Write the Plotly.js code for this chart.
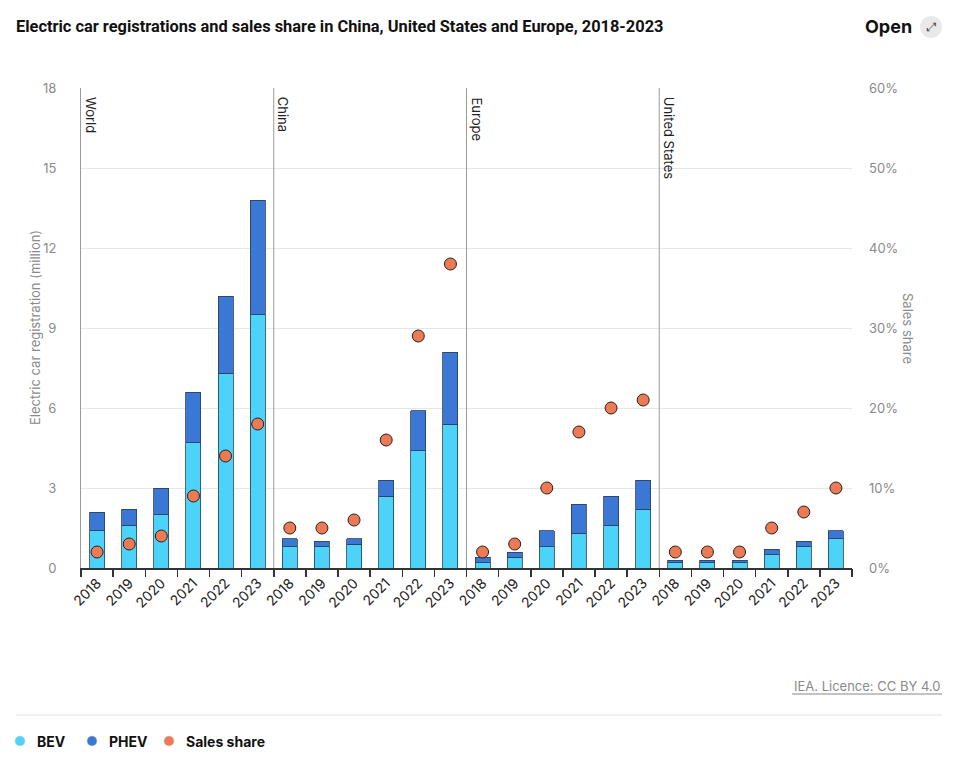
<!DOCTYPE html>
<html>
<head>
<meta charset="utf-8">
<script src="https://cdn.plot.ly/plotly-3.0.1.min.js"></script>
<style>html,body{margin:0;padding:0;background:#fff;}#chart{width:969px;height:758px;}</style>
</head>
<body>
<div id="chart"></div>
<script>
// ---- data ----
const regions = ["World", "China", "Europe", "United States"];
const years = ["2018", "2019", "2020", "2021", "2022", "2023"];
const bevWorld = [1.4, 1.6, 2.0, 4.7, 7.3, 9.5];
const phevWorld = [0.7, 0.6, 1.0, 1.9, 2.9, 4.3];
const shareWorld = [2, 3, 4, 9, 14, 18];
const bevChina = [0.8, 0.8, 0.9, 2.7, 4.4, 5.4];
const phevChina = [0.3, 0.2, 0.2, 0.6, 1.5, 2.7];
const shareChina = [5, 5, 6, 16, 29, 38];
const bevEurope = [0.2, 0.4, 0.8, 1.3, 1.6, 2.2];
const phevEurope = [0.2, 0.2, 0.6, 1.1, 1.1, 1.1];
const shareEurope = [2, 3, 10, 17, 20, 21];
const bevUS = [0.2, 0.2, 0.2, 0.5, 0.8, 1.1];
const phevUS = [0.1, 0.1, 0.1, 0.2, 0.2, 0.3];
const shareUS = [2, 2, 2, 5, 7, 10];
const yTicks = [0, 3, 6, 9, 12, 15, 18];
const y2Ticks = [0, 10, 20, 30, 40, 50, 60];
const seriesNames = ["BEV", "PHEV", "Sales share"];

// ---- build ----
const bevAll = [].concat(bevWorld, bevChina, bevEurope, bevUS);
const phevAll = [].concat(phevWorld, phevChina, phevEurope, phevUS);
const shareAll = [].concat(shareWorld, shareChina, shareEurope, shareUS);
const xIdx = bevAll.map((_, i) => i);
const xText = [];
regions.forEach(() => years.forEach(y => xText.push(y)));
const n = xIdx.length;
const boundaries = [];
for (let i = 0; i <= n; i++) boundaries.push(i - 0.5);

const C_BEV = "#4CD3F9", C_PHEV = "#3B78D6", C_SHARE = "#EE7A55";
const seriesColors = [C_BEV, C_PHEV, C_SHARE];
const FONT = "Inter, 'Noto Sans', sans-serif";

// pixel helpers (plot area: x 81..852, y 88..568)
const L = 81, R = 852, T = 88, B = 568;
const px = x => (x - L) / (R - L);
const py = y => (B - y) / (B - T);

const traces = [
  {type: "bar", name: seriesNames[0], x: xIdx, y: bevAll, width: 0.47,
   marker: {color: C_BEV, line: {color: "#2c3e50", width: 0.8}}, showlegend: false, hoverinfo: "y"},
  {type: "bar", name: seriesNames[1], x: xIdx, y: phevAll, width: 0.47,
   marker: {color: C_PHEV, line: {color: "#2c3e50", width: 0.8}}, showlegend: false, hoverinfo: "y"},
  {type: "scatter", mode: "markers", name: seriesNames[2], x: xIdx, y: shareAll, yaxis: "y2",
   marker: {color: C_SHARE, size: 12, line: {color: "#222", width: 1}}, showlegend: false, hoverinfo: "y"},
  // boundary tick marks
  {type: "scatter", mode: "markers", x: [null], y: [null], xaxis: "x2", showlegend: false, hoverinfo: "skip"}
];

const shapes = [];
for (let g = 1; g < regions.length; g++) {
  shapes.push({type: "line", xref: "x", yref: "paper", x0: g * years.length - 0.5, x1: g * years.length - 0.5,
               y0: 0, y1: 1, line: {color: "#9a9a9a", width: 1}});
}
shapes.push({type: "line", xref: "paper", yref: "paper", x0: px(16), x1: px(942), y0: py(715), y1: py(715),
             line: {color: "#e2e2e2", width: 1}});
shapes.push({type: "line", xref: "paper", yref: "paper", x0: px(792), x1: px(942), y0: py(694), y1: py(694),
             line: {color: "#888", width: 1}});
shapes.push({type: "circle", xref: "paper", yref: "paper", x0: px(920), x1: px(942), y0: py(16), y1: py(38),
             fillcolor: "#e9e9e9", line: {width: 0}});

const annotations = regions.map((r, g) => ({
  text: r, xref: "x", yref: "paper", x: g * years.length - 0.5, y: 1,
  xanchor: "left", yanchor: "top", xshift: 0, yshift: -7, textangle: 90, showarrow: false,
  font: {family: FONT, size: 13, color: "#222"}
}));

// custom legend (round dots)
const legDot = [20, 92, 169];
seriesNames.forEach((s, i) => {
  shapes.push({type: "circle", xref: "paper", yref: "paper",
    x0: px(legDot[i] - 5), x1: px(legDot[i] + 5), y0: py(746), y1: py(736),
    fillcolor: seriesColors[i], line: {color: "#d0d0d0", width: 0.5}});
  annotations.push({text: "<b>" + s + "</b>", xref: "paper", yref: "paper",
    x: px(legDot[i] + 15), y: py(741), xanchor: "left", yanchor: "middle", showarrow: false,
    font: {family: FONT, size: 14, color: "#111"}});
});

annotations.push({text: "Electric car registration (million)", xref: "paper", yref: "paper",
  x: px(35), y: py(328), textangle: -90, showarrow: false, xanchor: "center", yanchor: "middle",
  font: {family: FONT, size: 13, color: "#8a8a8a"}});
annotations.push({text: "Sales share", xref: "paper", yref: "paper",
  x: px(908), y: py(328), textangle: 90, showarrow: false, xanchor: "center", yanchor: "middle",
  font: {family: FONT, size: 13, color: "#8a8a8a"}});
annotations.push({text: "IEA. Licence: CC BY 4.0", xref: "paper", yref: "paper",
  x: px(942), y: py(686), xanchor: "right", yanchor: "middle", showarrow: false,
  font: {family: FONT, size: 13, color: "#8a8a8a"}});
annotations.push({text: "<b>Open</b>", xref: "paper", yref: "paper",
  x: px(914), y: py(27), xanchor: "right", yanchor: "middle", showarrow: false,
  font: {family: FONT, size: 18, color: "#111"}});
annotations.push({text: "⤢", xref: "paper", yref: "paper",
  x: px(931), y: py(27), xanchor: "center", yanchor: "middle", showarrow: false,
  font: {family: "DejaVu Sans", size: 12, color: "#444"}});

const layout = {
  width: 969, height: 758,
  margin: {l: L, r: 969 - R, t: T, b: 758 - B, pad: 0, autoexpand: false},
  paper_bgcolor: "#fff", plot_bgcolor: "#fff",
  barmode: "stack",
  title: {text: "<b>Electric car registrations and sales share in China, United States and Europe, 2018-2023</b>",
          x: 16 / 969, xanchor: "left", xref: "container", y: 1 - 26 / 758, yref: "container", yanchor: "middle",
          font: {family: "Roboto, sans-serif", size: 16.4, color: "#111"}},
  xaxis: {range: [-0.5, n - 0.5], tickvals: xIdx, ticktext: xText, tickangle: -45, automargin: false,
          ticks: "", showgrid: false, zeroline: false, showline: true, linecolor: "#333", linewidth: 1.5,
          tickfont: {family: FONT, size: 14, color: "#222"}, fixedrange: true},
  xaxis2: {overlaying: "x", range: [-0.5, n - 0.5], tickvals: boundaries, ticks: "outside", ticklen: 8,
           tickcolor: "#333", tickwidth: 1.5, showticklabels: false, showgrid: false, zeroline: false, side: "bottom",
           automargin: false},
  yaxis: {range: [0, 18], tickvals: yTicks, showgrid: true, gridcolor: "#e6e6e6", zeroline: false, automargin: false,
          showline: true, linecolor: "#9a9a9a", linewidth: 1, ticks: "", ticklen: 0,
          tickfont: {family: FONT, size: 13, color: "#8a8a8a"}, ticklabelstandoff: 21},
  yaxis2: {range: [0, 60], tickvals: y2Ticks, ticktext: y2Ticks.map(v => v + "%"), overlaying: "y", side: "right",
           showgrid: false, zeroline: false, ticks: "", ticklabelstandoff: 16, automargin: false,
           tickfont: {family: FONT, size: 13, color: "#8a8a8a"}},
  shapes: shapes,
  annotations: annotations,
  showlegend: false
};

Plotly.newPlot("chart", traces, layout, {displayModeBar: false, staticPlot: true});
</script>
</body>
</html>
